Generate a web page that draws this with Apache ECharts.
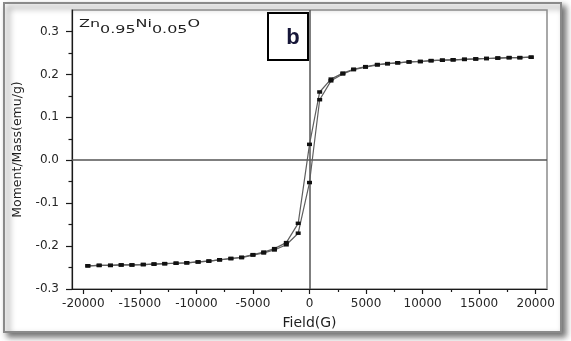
<!DOCTYPE html>
<html>
<head>
<meta charset="utf-8">
<script src="https://cdn.jsdelivr.net/npm/echarts@6/dist/echarts.min.js"></script>
<style>
  html, body { margin: 0; padding: 0; background: #ffffff; }
  #chart { width: 571px; height: 341px; }
</style>
</head>
<body>
<div id="chart"></div>
<script>
// Hysteresis loop of Zn0.95Ni0.05O: moment per mass versus applied field

// Descending branch (field swept from +H to -H)
const fieldDown = [19600, 18600, 17650, 16650, 15650, 14700, 13700, 12700, 11750, 10750,
  9800, 8800, 7800, 6900, 6000, 4950, 3900, 2950, 1900, 900, 0,
  -1000, -2050, -3100, -4050, -5000, -6000, -6950, -7950, -8900, -9850,
  -10850, -11800, -12800, -13750, -14700, -15700, -16650, -17600, -18600, -19600];
const momentDown = [0.240, 0.239, 0.239, 0.238, 0.237, 0.236, 0.235, 0.234, 0.233, 0.232,
  0.230, 0.229, 0.227, 0.225, 0.223, 0.218, 0.212, 0.203, 0.189, 0.159, 0.037,
  -0.147, -0.192, -0.206, -0.214, -0.220, -0.226, -0.229, -0.232, -0.235, -0.237,
  -0.239, -0.240, -0.241, -0.242, -0.243, -0.244, -0.244, -0.245, -0.245, -0.246];

// Ascending branch (field swept from -H back to +H)
const fieldUp = [-19600, -18600, -17600, -16650, -15700, -14700, -13750, -12800, -11800, -10850,
  -9850, -8900, -7950, -6950, -6000, -5000, -4050, -3100, -2050, -1000, 0,
  900, 1900, 2950, 3900, 4950, 6000, 6900, 7800, 8800, 9800,
  10750, 11750, 12700, 13700, 14700, 15650, 16650, 17650, 18600, 19600];
const momentUp = [-0.246, -0.245, -0.245, -0.244, -0.244, -0.243, -0.242, -0.241, -0.240, -0.239,
  -0.237, -0.235, -0.232, -0.229, -0.227, -0.221, -0.216, -0.209, -0.197, -0.170, -0.052,
  0.141, 0.185, 0.201, 0.211, 0.217, 0.222, 0.225, 0.227, 0.229, 0.230,
  0.232, 0.233, 0.234, 0.235, 0.236, 0.237, 0.238, 0.239, 0.239, 0.240];

// Axis ticks
const xMajorTicks = [-20000, -15000, -10000, -5000, 0, 5000, 10000, 15000, 20000];
const xMinorTicks = [-17500, -12500, -7500, -2500, 2500, 7500, 12500, 17500];
const yMajorTicks = [-0.3, -0.2, -0.1, 0.0, 0.1, 0.2, 0.3];
const yMinorTicks = [-0.25, -0.15, -0.05, 0.05, 0.15, 0.25];

const xRange = [-21000, 21000];
const yRange = [-0.3, 0.35];

const zip = (xs, ys) => xs.map((x, i) => [x, ys[i]]);

const font = 'DejaVu Sans';
const axisColor = '#1a1a1a';
const chart = echarts.init(document.getElementById('chart'), null, { renderer: 'canvas' });

const branchStyle = {
  type: 'line',
  xAxisIndex: 0,
  yAxisIndex: 0,
  symbol: 'rect',
  symbolSize: [5, 3.5],
  showAllSymbol: true,
  itemStyle: { color: '#111111' },
  lineStyle: { color: '#5e5e5e', width: 1.2 },
  z: 5
};

chart.setOption({
  animation: false,
  backgroundColor: '#ffffff',
  grid: {
    left: 72, right: 24, top: 10, bottom: 52,
    show: true, borderColor: '#8c8c8c', borderWidth: 1.5, backgroundColor: 'transparent'
  },
  xAxis: [
    {
      type: 'value', position: 'bottom', min: xRange[0], max: xRange[1],
      name: 'Field(G)', nameLocation: 'middle', nameGap: 27,
      nameTextStyle: { fontFamily: font, fontSize: 14, color: '#1e1e1e' },
      axisLine: { show: true, onZero: false, lineStyle: { color: axisColor, width: 1.2 } },
      axisTick: { show: true, customValues: xMajorTicks, length: 5, lineStyle: { color: axisColor, width: 1.2 } },
      axisLabel: {
        customValues: xMajorTicks, margin: 9, fontFamily: font, fontSize: 12, color: '#262626',
        formatter: v => String(Math.round(v))
      },
      splitLine: { show: false }
    },
    {
      type: 'value', position: 'bottom', min: xRange[0], max: xRange[1],
      axisLine: { show: false, onZero: false },
      axisTick: { show: true, customValues: xMinorTicks, length: 3, lineStyle: { color: axisColor, width: 1.2 } },
      axisLabel: { show: false },
      splitLine: { show: false }
    }
  ],
  yAxis: [
    {
      type: 'value', position: 'left', min: yRange[0], max: yRange[1],
      name: 'Moment/Mass(emu/g)', nameLocation: 'middle', nameGap: 46, nameRotate: 90,
      nameTextStyle: { fontFamily: font, fontSize: 12.5, color: '#1e1e1e' },
      axisLine: { show: true, onZero: false, lineStyle: { color: axisColor, width: 1.2 } },
      axisTick: { show: true, customValues: yMajorTicks, length: 6, lineStyle: { color: axisColor, width: 1.2 } },
      axisLabel: {
        customValues: yMajorTicks, margin: 13, fontFamily: font, fontSize: 12, color: '#262626',
        formatter: v => v.toFixed(1)
      },
      splitLine: { show: false }
    },
    {
      type: 'value', position: 'left', min: yRange[0], max: yRange[1],
      axisLine: { show: false, onZero: false },
      axisTick: { show: true, customValues: yMinorTicks, length: 3.5, lineStyle: { color: axisColor, width: 1.2 } },
      axisLabel: { show: false },
      splitLine: { show: false }
    }
  ],
  series: [
    Object.assign({}, branchStyle, {
      name: 'down',
      data: zip(fieldDown, momentDown),
      markLine: {
        silent: true,
        symbol: 'none',
        label: { show: false },
        lineStyle: { color: '#555555', width: 1.5, type: 'solid' },
        data: [{ xAxis: 0 }, { yAxis: 0 }],
        z: 3
      }
    }),
    Object.assign({}, branchStyle, {
      name: 'up',
      data: zip(fieldUp, momentUp)
    })
  ],
  graphic: [
    {
      type: 'rect', z: -10, silent: true,
      shape: { x: 4, y: 3, width: 557, height: 329 },
      style: {
        fill: '#ffffff', stroke: '#8a8a8a', lineWidth: 2,
        shadowBlur: 6, shadowOffsetX: 4, shadowOffsetY: 4, shadowColor: 'rgba(0,0,0,0.55)'
      }
    },
    {
      type: 'text', z: 20, silent: true,
      x: 79, y: 19, scaleX: 1.45,
      style: {
        text: '{a|Zn}{s|0.95}{a|Ni}{s|0.05}{a|O}',
        fill: '#1e1e1e',
        rich: {
          a: { fontFamily: font, fontSize: 11, lineHeight: 13, verticalAlign: 'top', fill: '#1e1e1e' },
          s: { fontFamily: font, fontSize: 11, lineHeight: 17, verticalAlign: 'bottom', fill: '#1e1e1e' }
        }
      }
    },
    {
      type: 'rect', z: 20, silent: true,
      shape: { x: 268, y: 13, width: 40, height: 47 },
      style: { fill: '#ffffff', stroke: '#000000', lineWidth: 2 }
    },
    {
      type: 'text', z: 21, silent: true,
      x: 293, y: 38,
      style: {
        text: 'b', fontFamily: 'Liberation Sans', fontWeight: 'bold', fontSize: 22,
        fill: '#161638', align: 'center', verticalAlign: 'middle'
      }
    }
  ]
});
</script>
</body>
</html>
